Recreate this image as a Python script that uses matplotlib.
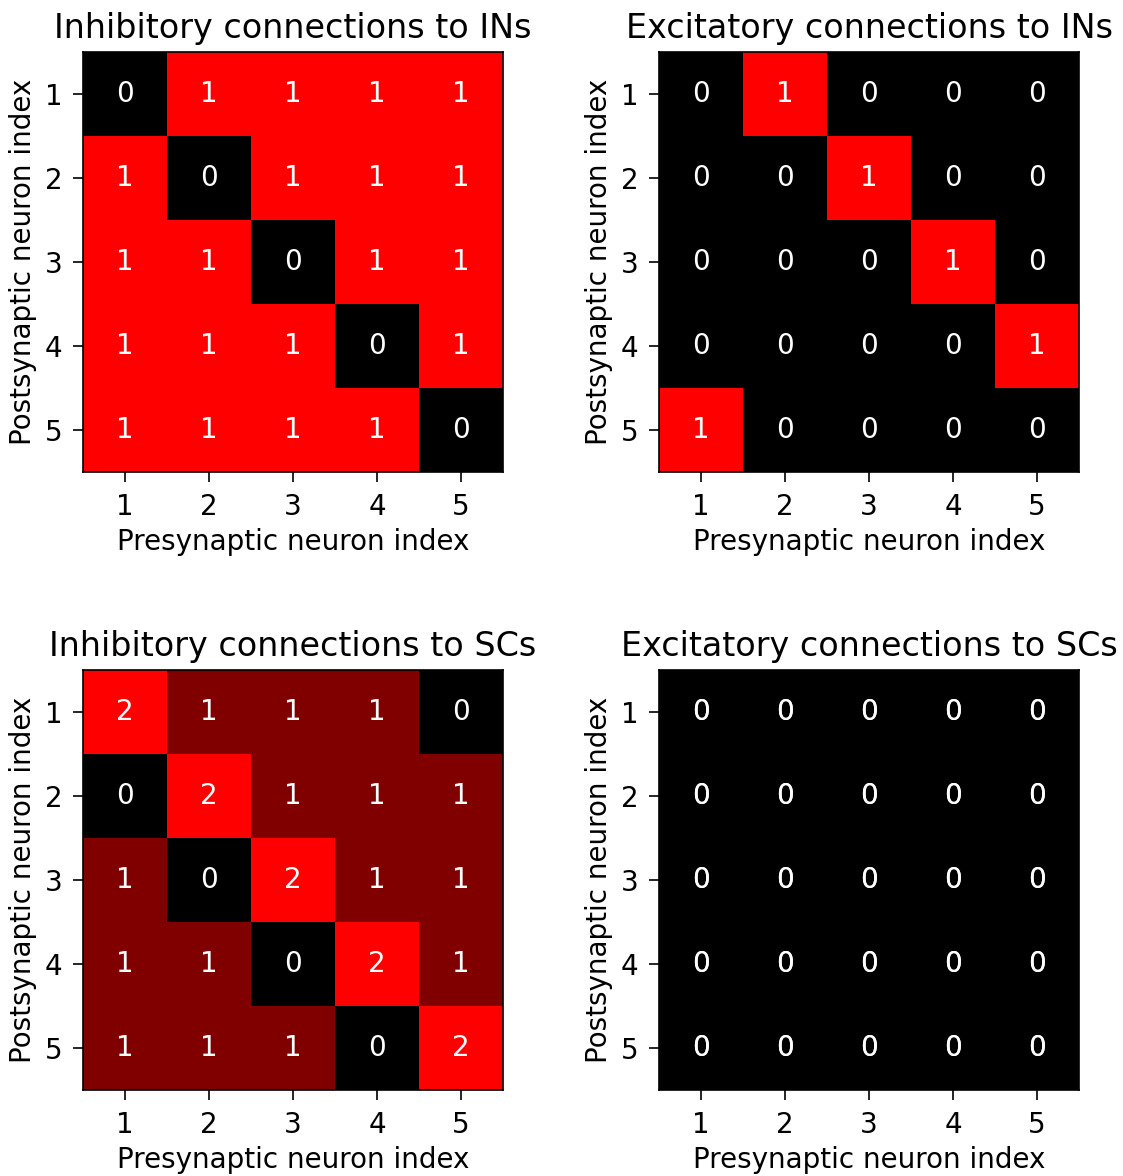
import numpy as np
import matplotlib
matplotlib.use("Agg")
import matplotlib.pyplot as plt
from matplotlib.colors import LinearSegmentedColormap


# connection matrices (rows = postsynaptic, cols = presynaptic)
inh_to_ins = [[0, 1, 1, 1, 1],
              [1, 0, 1, 1, 1],
              [1, 1, 0, 1, 1],
              [1, 1, 1, 0, 1],
              [1, 1, 1, 1, 0]]

exc_to_ins = [[0, 1, 0, 0, 0],
              [0, 0, 1, 0, 0],
              [0, 0, 0, 1, 0],
              [0, 0, 0, 0, 1],
              [1, 0, 0, 0, 0]]

inh_to_scs = [[2, 1, 1, 1, 0],
              [0, 2, 1, 1, 1],
              [1, 0, 2, 1, 1],
              [1, 1, 0, 2, 1],
              [1, 1, 1, 0, 2]]

exc_to_scs = [[0, 0, 0, 0, 0],
              [0, 0, 0, 0, 0],
              [0, 0, 0, 0, 0],
              [0, 0, 0, 0, 0],
              [0, 0, 0, 0, 0]]

titulos = ["Inhibitory connections to INs", "Excitatory connections to INs",
           "Inhibitory connections to SCs", "Excitatory connections to SCs"]
indices = [1, 2, 3, 4, 5]

cmap = LinearSegmentedColormap.from_list("br", ["black", "red"])

W, H = 1123, 1176
fig = plt.figure(figsize=(W / 100, H / 100), dpi=100)

# axes positions in pixels (left, top)
posicoes = [(83, 52), (659, 52), (83, 670), (659, 670)]
lado = 420

matrizes = [inh_to_ins, exc_to_ins, inh_to_scs, exc_to_scs]

for k, (m, titulo, (x0, y0)) in enumerate(zip(matrizes, titulos, posicoes)):
    m = np.array(m)
    ax = fig.add_axes([x0 / W, 1 - (y0 + lado) / H, lado / W, lado / H])
    vmax = m.max() if m.max() > 0 else 1
    ax.imshow(m, cmap=cmap, vmin=0, vmax=vmax, aspect="auto")
    vezes = 2 if k == 3 else 1
    for i in range(m.shape[0]):
        for j in range(m.shape[1]):
            for _ in range(vezes):
                ax.text(j, i, str(m[i, j]), ha="center", va="center",
                        color="white", fontsize=20)
    ax.set_xticks(range(len(indices)))
    ax.set_yticks(range(len(indices)))
    ax.set_xticklabels(indices)
    ax.set_yticklabels(indices)
    ax.tick_params(labelsize=20, length=7, width=1.2, pad=8)
    ax.set_title(titulo, fontsize=24, pad=10)
    ax.set_xlabel("Presynaptic neuron index", fontsize=20, labelpad=5)
    ax.set_ylabel("Postsynaptic neuron index", fontsize=20, labelpad=5)
    for s in ax.spines.values():
        s.set_linewidth(1.2)

fig.savefig("out.png", dpi=100)
